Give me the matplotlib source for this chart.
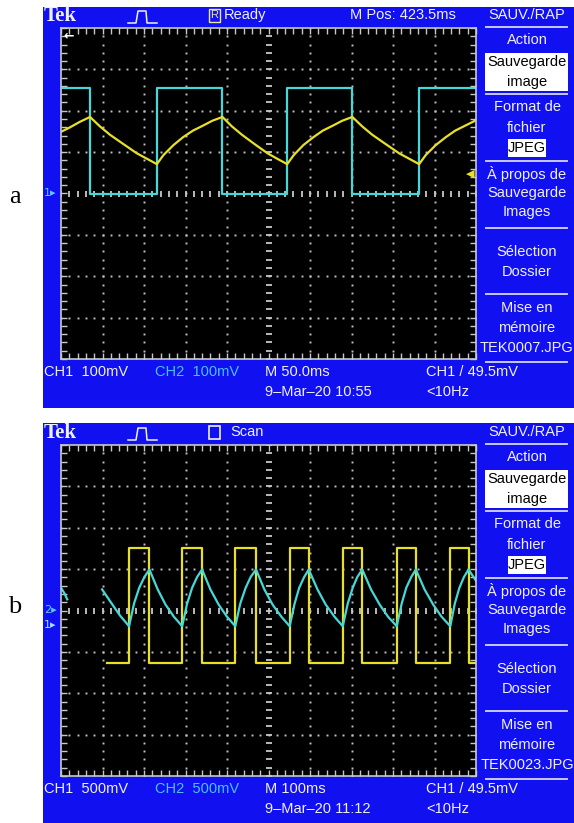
import numpy as np
import matplotlib
matplotlib.use('Agg')
import matplotlib.pyplot as plt
from matplotlib.patches import Rectangle
from matplotlib.lines import Line2D
from matplotlib.transforms import Affine2D

# ---- data, in screen divisions (10 x 8, 0 = centre line) ----
# screenshot a : 50 ms/div, 100 mV/div
a_cyan_edges = [0.70, 2.31, 3.89, 5.45, 7.02, 8.63]   # starts high
a_cyan_high, a_cyan_low = 2.55, 0.0
a_yellow_x = [0.00, 0.20, 0.45, 0.70, 0.94, 1.18, 1.51, 1.83, 2.07, 2.31,
              2.47, 2.71, 2.94, 3.18, 3.42, 3.65, 3.89, 4.12, 4.36, 4.67,
              4.98, 5.21, 5.45, 5.61, 5.84, 6.08, 6.31, 6.55, 6.78, 7.02,
              7.26, 7.50, 7.83, 8.15, 8.39, 8.63, 8.79, 9.03, 9.27, 9.50,
              9.74, 10.00]
a_yellow_y = [1.49, 1.59, 1.73, 1.85, 1.62, 1.42, 1.19, 0.97, 0.84, 0.71,
              0.93, 1.17, 1.36, 1.52, 1.64, 1.76, 1.85, 1.62, 1.42, 1.19,
              0.97, 0.84, 0.71, 0.93, 1.17, 1.36, 1.52, 1.64, 1.76, 1.85,
              1.62, 1.42, 1.19, 0.97, 0.84, 0.71, 0.93, 1.17, 1.36, 1.52,
              1.64, 1.77]

# screenshot b : 100 ms/div, 500 mV/div (scan mode, trace starts late)
b_yellow_start = 1.12
b_yellow_edges = [1.64, 2.13, 2.92, 3.40, 4.20, 4.70, 5.51, 5.97,
                  6.79, 7.26, 8.09, 8.55, 9.38, 9.82]   # starts low
b_yellow_high, b_yellow_low = 1.51, -1.26
b_cyan_x = [0.99, 1.20, 1.42, 1.64, 1.76, 1.885, 2.01, 2.13, 2.33, 2.52,
            2.72, 2.92, 3.04, 3.16, 3.28, 3.40, 3.60, 3.80, 4.00, 4.20,
            4.32, 4.45, 4.57, 4.70, 4.90, 5.10, 5.31, 5.51, 5.63, 5.74,
            5.86, 5.97, 6.18, 6.38, 6.59, 6.79, 6.91, 7.03, 7.14, 7.26,
            7.47, 7.68, 7.88, 8.09, 8.21, 8.32, 8.44, 8.55, 8.76, 8.97,
            9.17, 9.38, 9.49, 9.60, 9.71, 9.82, 10.00]
b_cyan_y = [0.51, 0.20, -0.12, -0.38, 0.17, 0.55, 0.81, 0.99, 0.51, 0.14,
            -0.15, -0.38, 0.17, 0.55, 0.81, 0.99, 0.51, 0.14, -0.15, -0.38,
            0.17, 0.55, 0.81, 0.99, 0.51, 0.14, -0.15, -0.38, 0.17, 0.55,
            0.81, 0.99, 0.51, 0.14, -0.15, -0.38, 0.17, 0.55, 0.81, 0.99,
            0.51, 0.14, -0.15, -0.38, 0.17, 0.55, 0.81, 0.99, 0.51, 0.14,
            -0.15, -0.38, 0.17, 0.55, 0.81, 0.99, 0.72]
b_cyan_head_x = [0.00, 0.08, 0.15]
b_cyan_head_y = [0.55, 0.42, 0.27]

W, H = 574, 823
BLUE = '#1010f0'
CYAN = '#45d8d8'
YELLOW = '#e8e028'
TXT = '#f0f0ff'
CH2_TXT = '#4cc0ff'
FONT = ['Liberation Sans', 'DejaVu Sans']
FS = 10.5

fig = plt.figure(figsize=(W / 100, H / 100), dpi=100)
fig.patch.set_facecolor('white')
# pixel coordinates, y going down
px = Affine2D().scale(1 / W, -1 / H).translate(0, 1) + fig.transFigure


def rect(x0, y0, x1, y1, fc, ec='none', lw=0, z=1):
    fig.add_artist(Rectangle((x0, y0), x1 - x0, y1 - y0, transform=px,
                             facecolor=fc, edgecolor=ec, linewidth=lw,
                             zorder=z))


def hline(x0, x1, y, color='#c8c8ff', lw=1.4):
    fig.add_artist(Line2D([x0, x1], [y, y], transform=px, color=color, lw=lw))


def txt(x, y, s, color=TXT, size=FS, ha='left', family=FONT, **kw):
    fig.text(x, y, s, transform=px, color=color, fontsize=size, ha=ha,
             va='center', family=family, zorder=3, **kw)


def square(edges, start, first, other, end=10.0):
    xs, ys = [start], [first]
    cur, nxt = first, other
    for e in edges:
        xs += [e, e]
        ys += [cur, nxt]
        cur, nxt = nxt, cur
    xs.append(end)
    ys.append(cur)
    return xs, ys


def scope_grid(top):
    ax = fig.add_axes([61 / W, 1 - (top + 331) / H, 415 / W, 331 / H])
    ax.set_zorder(5)
    ax.set_facecolor('black')
    ax.set_xlim(0, 10)
    ax.set_ylim(-4, 4)
    for s in ax.spines.values():
        s.set_color('#c8c8c8')
        s.set_linewidth(1.2)
    ax.set_xticks(np.arange(0, 10.01, 0.2))
    ax.set_yticks(np.arange(-4, 4.01, 0.2))
    ax.tick_params(direction='in', length=4, width=1, color='#c8c8c8',
                   top=True, right=True, labelbottom=False, labelleft=False)
    steps_y = np.arange(-4, 4.01, 0.2)
    steps_x = np.arange(0, 10.01, 0.2)
    for gx in [1, 2, 3, 4, 6, 7, 8, 9]:
        ax.plot(np.full_like(steps_y, gx), steps_y, ls='none', marker='s',
                ms=1.4, color='#c0c0c0', mew=0)
    for gy in [-3, -2, -1, 1, 2, 3]:
        ax.plot(steps_x, np.full_like(steps_x, gy), ls='none', marker='s',
                ms=1.4, color='#c0c0c0', mew=0)
    ax.plot(np.full_like(steps_y, 5), steps_y, ls='none', marker='_',
            ms=5, mew=1.3, color='#c8c8c8')
    ax.plot(steps_x, np.zeros_like(steps_x), ls='none', marker='|',
            ms=5, mew=1.3, color='#c8c8c8')
    return ax


def trig_icon(dy):
    fig.add_artist(Line2D([128, 136, 138, 146, 147, 157],
                          [23 + dy, 23 + dy, 11 + dy, 11 + dy, 23 + dy, 23 + dy],
                          transform=px, color=TXT, lw=1.1))


def menu(dy, fname):
    cx = 527
    txt(cx, 15 + dy, 'SAUV./RAP', ha='center')
    hline(486, 567, 27 + dy)
    txt(cx, 40 + dy, 'Action', ha='center')
    rect(485, 53 + dy, 568, 91 + dy, 'white', z=2)
    txt(cx, 62 + dy, 'Sauvegarde', color='black', ha='center')
    txt(cx, 82 + dy, 'image', color='black', ha='center')
    hline(486, 567, 94 + dy)
    txt(cx, 107 + dy, 'Format de', ha='center')
    txt(cx, 128 + dy, 'fichier', ha='center')
    rect(508, 139 + dy, 546, 157 + dy, 'white', z=2)
    txt(cx, 148 + dy, 'JPEG', color='black', ha='center')
    hline(486, 567, 161 + dy)
    txt(cx, 174 + dy, 'À propos de', ha='center')
    txt(cx, 193 + dy, 'Sauvegarde', ha='center')
    txt(cx, 212 + dy, 'Images', ha='center')
    hline(486, 567, 228 + dy)
    txt(cx, 252 + dy, 'Sélection', ha='center')
    txt(cx, 272 + dy, 'Dossier', ha='center')
    hline(486, 567, 294 + dy)
    txt(cx, 308 + dy, 'Mise en', ha='center')
    txt(cx, 328 + dy, 'mémoire', ha='center')
    txt(cx, 348 + dy, fname, ha='center')
    hline(486, 567, 362 + dy)


def footer(dy, volts, tb, stamp):
    txt(44, 372 + dy, 'CH1  ' + volts)
    txt(155, 372 + dy, 'CH2  ' + volts, color=CH2_TXT)
    txt(265, 372 + dy, tb)
    txt(265, 392 + dy, stamp)
    txt(426, 372 + dy, 'CH1 / 49.5mV')
    txt(426, 392 + dy, '<10Hz')


# ---------------- screenshot a ----------------
rect(43, 7, 574, 408, BLUE, z=0)
txt(44, 16, 'Tek', size=15, family=['Liberation Serif', 'DejaVu Serif'],
    weight='bold')
trig_icon(0)
rect(209, 9, 220, 22, 'none', ec='#e8e8a0', lw=1)
txt(214.5, 15.5, 'R', size=8, ha='center', color='#e8e8a0')
txt(224, 15, 'Ready')
txt(350, 15, 'M Pos: 423.5ms')
menu(0, 'TEK0007.JPG')
footer(0, '100mV', 'M 50.0ms', '9–Mar–20 10:55')
txt(44, 193, '1▸', color='#5cc8ff', size=8, family=['DejaVu Sans'])
txt(15, 197, 'a', color='black', size=19, ha='center',
    family=['Liberation Serif', 'DejaVu Serif'])

ax_a = scope_grid(28)
cx_, cy_ = square(a_cyan_edges, 0.0, a_cyan_high, a_cyan_low)
ax_a.plot(cx_, cy_, color=CYAN, lw=1.6)
ax_a.plot(a_yellow_x, a_yellow_y, color=YELLOW, lw=1.6)
ax_a.text(0.06, 3.8, '←', color='white', fontsize=9, weight='bold',
          va='center', family=['DejaVu Sans'])
ax_a.text(9.97, 0.47, '◀', color=YELLOW, fontsize=8, ha='right',
          va='center', family=['DejaVu Sans'])

# ---------------- screenshot b ----------------
DY = 417
rect(43, 423, 574, 823, BLUE, z=0)
txt(44, 16 + DY, 'Tek', size=15, family=['Liberation Serif', 'DejaVu Serif'],
    weight='bold')
trig_icon(DY)
rect(209, 9 + DY, 220, 22 + DY, 'none', ec=TXT, lw=1.2)
txt(230, 15 + DY, 'Scan')
menu(DY, 'TEK0023.JPG')
footer(DY, '500mV', 'M 100ms', '9–Mar–20 11:12')
txt(44, 610, '2▸', color='#5cc8ff', size=8, family=['DejaVu Sans'])
txt(44, 625, '1▸', color='#a0e0ff', size=8, family=['DejaVu Sans'])
txt(15, 607, 'b', color='black', size=19, ha='center',
    family=['Liberation Serif', 'DejaVu Serif'])

ax_b = scope_grid(445)
yx, yy = square(b_yellow_edges, b_yellow_start, b_yellow_low, b_yellow_high)
ax_b.plot(yx, yy, color=YELLOW, lw=1.6)
ax_b.plot(b_cyan_x, b_cyan_y, color=CYAN, lw=1.6)
ax_b.plot(b_cyan_head_x, b_cyan_head_y, color=CYAN, lw=1.6)

fig.savefig('out.png', dpi=100)
